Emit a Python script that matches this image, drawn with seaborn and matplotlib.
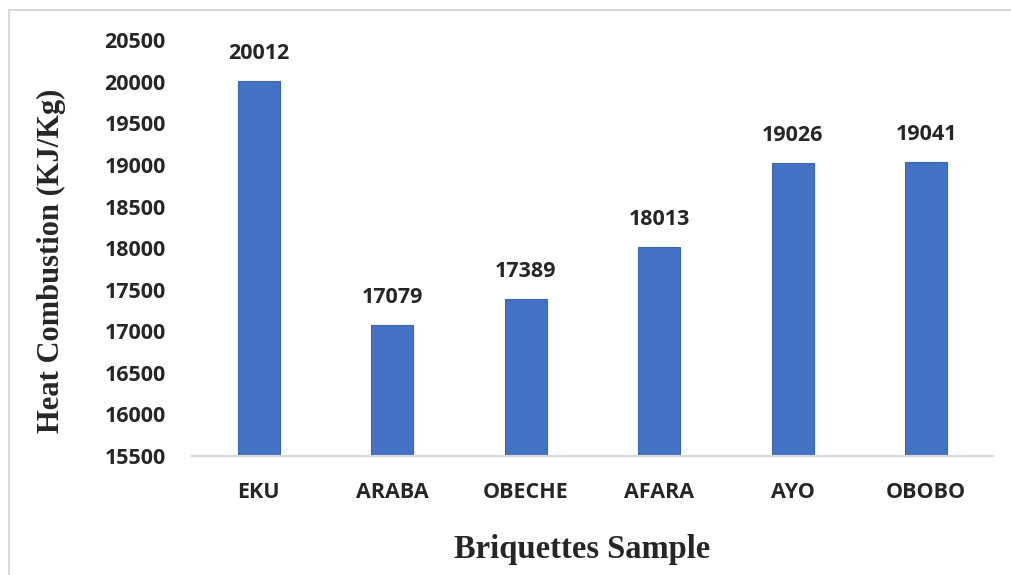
import matplotlib
matplotlib.use("Agg")
import matplotlib.pyplot as plt
import seaborn as sns
import pandas as pd
from matplotlib.patches import Rectangle

# Data
samples = ["EKU", "ARABA", "OBECHE", "AFARA", "AYO", "OBOBO"]
heat_values = [20012, 17079, 17389, 18013, 19026, 19041]
y_ticks = list(range(15500, 20501, 500))

df = pd.DataFrame({"sample": samples, "heat": heat_values})

sns.set_style("white")
plt.rcParams["font.family"] = ["Open Sans", "DejaVu Sans"]

fig = plt.figure(figsize=(10.11, 5.75), dpi=100)
ax = fig.add_axes([0.19, 0.207, 0.792, 0.723])

sns.barplot(data=df, x="sample", y="heat", color="#4472C4", saturation=1,
            width=0.315, edgecolor="#3A65B3", linewidth=0.8, ax=ax)

ax.set_ylim(15500, 20500)
ax.set_yticks(y_ticks)
ax.set_yticklabels([str(t) for t in y_ticks], fontsize=15.5, fontweight="bold")
ax.set_xticks(range(len(samples)))
ax.set_xticklabels(samples, fontsize=15.5, fontweight="bold")
ax.tick_params(axis="both", length=0)
ax.tick_params(axis="x", pad=19)
ax.tick_params(axis="y", pad=19)

# value labels on top of bars
for i, v in enumerate(heat_values):
    ax.annotate(str(v), (i, v), xytext=(0, 12), textcoords="offset points",
                ha="center", va="bottom", fontsize=15.5, fontweight="bold")

for s in ["top", "right", "left"]:
    ax.spines[s].set_visible(False)
ax.spines["bottom"].set_color("#D9D9D9")
ax.spines["bottom"].set_linewidth(1.5)

ax.set_xlabel("Briquettes Sample", fontsize=23.5, fontweight="bold",
              family="Liberation Serif")
ax.set_ylabel("Heat Combustion (KJ/Kg)", fontsize=22, fontweight="bold",
              family="Liberation Serif")
ax.yaxis.set_label_coords(-0.158, 0.47)
ax.xaxis.set_label_coords(0.487, -0.188)

# chart-area border (only top and left visible in the crop)
fig.patches.append(Rectangle((9 / 1011, -0.05), 1.1, 1 - 10 / 575 + 0.05,
                             transform=fig.transFigure, fill=False,
                             edgecolor="#D9D9D9", linewidth=1.5))

fig.savefig("out.png", dpi=100)
